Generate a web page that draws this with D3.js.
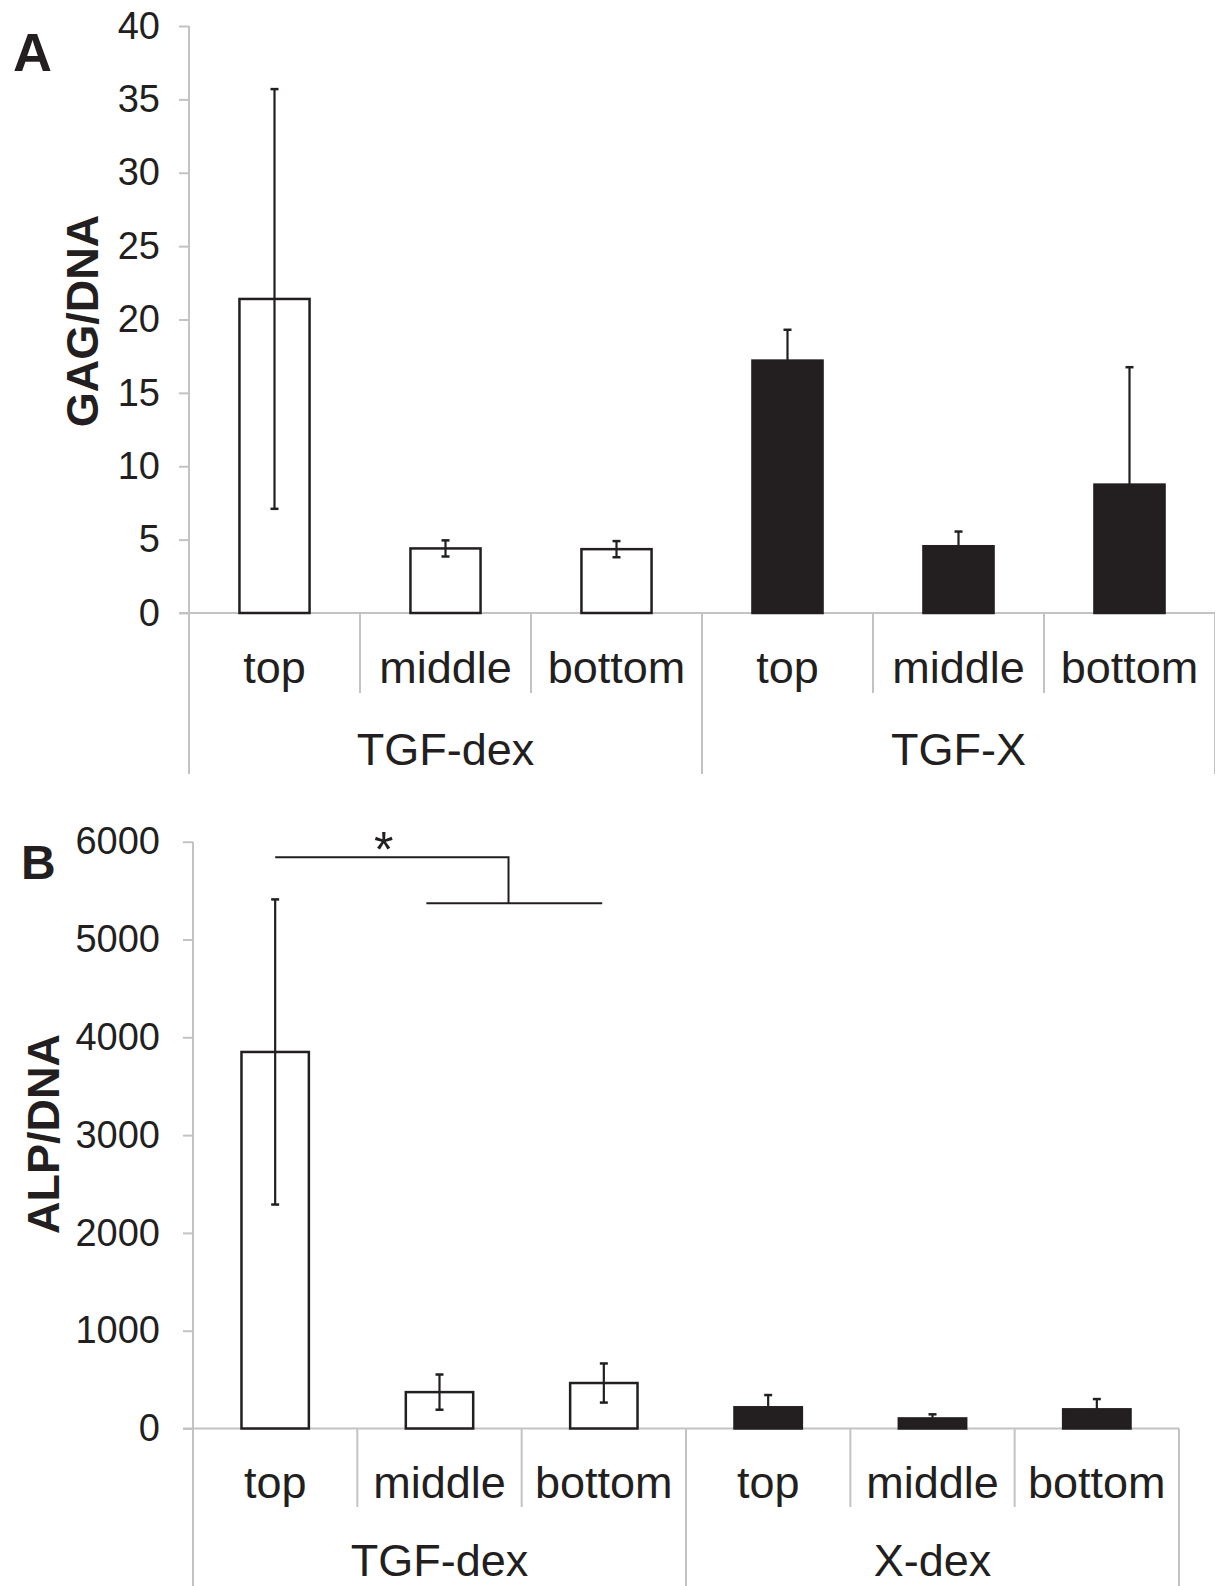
<!DOCTYPE html>
<html>
<head>
<meta charset="utf-8">
<script src="https://cdn.jsdelivr.net/npm/d3@7"></script>
<style>
  body { margin: 0; background: #fff; }
  svg { display: block; }
</style>
</head>
<body>
<div class="container"></div>
<script>
// categories
const positions = ['top', 'middle', 'bottom']
const groupsA = ['TGF-dex', 'TGF-X']
const groupsB = ['TGF-dex', 'X-dex']

// panel A: GAG/DNA
const gagMean = [21.4, 4.4, 4.35, 17.2, 4.55, 8.75]
const gagErr = [14.3, 0.55, 0.55, 2.1, 1.0, 8.0]
const gagTicks = [0, 5, 10, 15, 20, 25, 30, 35, 40]

// panel B: ALP/DNA
const alpMean = [3850, 372, 465, 217, 103, 196]
const alpErr = [1560, 180, 200, 125, 42, 105]
const alpTicks = [0, 1000, 2000, 3000, 4000, 5000, 6000]

// significance bracket in panel B (category index units / data units)
const sigHigh = [0.5, 1.92, 5840]
const sigLow = [1.42, 2.49, 5370]

const w = 1215
const h = 1586
const ink = '#231f20'
const grey = '#c3c3c3'
const font = "'Liberation Sans', Arial, Helvetica, sans-serif"

const svg = d3.select('.container')
  .append('svg')
  .attr('width', w)
  .attr('height', h)
  .attr('font-family', font)

function panel(o) {
  const n = o.means.length
  const x = d3.scaleBand()
    .domain(d3.range(n))
    .range([o.left, o.right])
    .paddingInner(0.59)
    .paddingOuter(0.295)
  const xi = d3.scaleLinear().domain([0, n]).range([o.left, o.right])
  const y = d3.scaleLinear()
    .domain([0, d3.max(o.ticks)])
    .range([o.zero, o.top])

  const g = svg.append('g')

  // y axis ticks + labels
  const ax = g.append('g')
    .attr('transform', `translate(${o.left},0)`)
    .call(d3.axisLeft(y)
      .tickValues(o.ticks)
      .tickFormat(d3.format('d'))
      .tickSize(10)
      .tickPadding(o.tickPad)
      .tickSizeOuter(0))
    .attr('font-family', font)
    .attr('font-size', o.tickFont)
  ax.select('.domain').remove()
  ax.selectAll('line').attr('stroke', grey).attr('stroke-width', 2)
  ax.selectAll('text').attr('fill', ink)

  // axis lines
  g.append('line')
    .attr('x1', o.left).attr('x2', o.left)
    .attr('y1', y(d3.max(o.ticks))).attr('y2', o.groupBottom)
    .attr('stroke', grey).attr('stroke-width', 2)
  g.append('line')
    .attr('x1', o.left - 10).attr('x2', o.right)
    .attr('y1', y(0)).attr('y2', y(0))
    .attr('stroke', grey).attr('stroke-width', 2)

  // category dividers
  g.selectAll('.div')
    .data(d3.range(1, n + 1))
    .enter()
    .append('line')
    .attr('x1', d => xi(d)).attr('x2', d => xi(d))
    .attr('y1', y(0))
    .attr('y2', d => d % 3 === 0 ? o.groupBottom : o.catBottom)
    .attr('stroke', grey).attr('stroke-width', 2)

  // bars
  g.selectAll('.bar')
    .data(o.means)
    .enter()
    .append('rect')
    .attr('x', (d, i) => x(i))
    .attr('width', x.bandwidth())
    .attr('y', d => y(d))
    .attr('height', d => y(0) - y(d))
    .attr('fill', (d, i) => i < 3 ? '#fff' : ink)
    .attr('stroke', ink)
    .attr('stroke-width', 2.5)

  // error bars
  const eb = g.selectAll('.err')
    .data(o.means)
    .enter()
    .append('g')
    .attr('transform', (d, i) => `translate(${x(i) + x.bandwidth() / 2},0)`)
  eb.append('line')
    .attr('y1', (d, i) => y(d + o.errs[i]))
    .attr('y2', (d, i) => y(Math.max(0, d - o.errs[i])))
    .attr('stroke', ink).attr('stroke-width', 2.2)
  eb.append('line')
    .attr('x1', -4).attr('x2', 4)
    .attr('y1', (d, i) => y(d + o.errs[i]))
    .attr('y2', (d, i) => y(d + o.errs[i]))
    .attr('stroke', ink).attr('stroke-width', 2.5)
  eb.append('line')
    .attr('x1', -4).attr('x2', 4)
    .attr('y1', (d, i) => y(Math.max(0, d - o.errs[i])))
    .attr('y2', (d, i) => y(Math.max(0, d - o.errs[i])))
    .attr('stroke', ink).attr('stroke-width', 2.5)

  // category labels
  g.selectAll('.cat')
    .data(o.means)
    .enter()
    .append('text')
    .text((d, i) => positions[i % 3])
    .attr('x', (d, i) => x(i) + x.bandwidth() / 2)
    .attr('y', o.catY)
    .attr('text-anchor', 'middle')
    .attr('font-size', 45)
    .attr('fill', ink)

  // group labels
  g.selectAll('.grp')
    .data(o.groups)
    .enter()
    .append('text')
    .text(d => d)
    .attr('x', (d, i) => xi(i * 3 + 1.5))
    .attr('y', o.groupY)
    .attr('text-anchor', 'middle')
    .attr('font-size', 45)
    .attr('fill', ink)

  // y title
  g.append('text')
    .text(o.title)
    .attr('transform', `translate(${o.titleX},${o.titleY}) rotate(-90)`)
    .attr('text-anchor', 'middle')
    .attr('dominant-baseline', 'central')
    .attr('font-size', 45)
    .attr('font-weight', 'bold')
    .attr('fill', ink)

  // panel letter
  g.append('text')
    .text(o.letter)
    .attr('x', o.letterX)
    .attr('y', o.letterY)
    .attr('font-size', o.letterFont)
    .attr('font-weight', 'bold')
    .attr('fill', ink)

  return { xi, y, g }
}

panel({
  means: gagMean, errs: gagErr, ticks: gagTicks, groups: groupsA,
  left: 189, right: 1215, zero: 613, top: 26,
  catBottom: 693, groupBottom: 774, catY: 683, groupY: 765,
  tickFont: 38, tickPad: 19, title: 'GAG/DNA', titleX: 82, titleY: 321,
  letter: 'A', letterX: 13, letterY: 71, letterFont: 54
})

const pB = panel({
  means: alpMean, errs: alpErr, ticks: alpTicks, groups: groupsB,
  left: 193, right: 1179, zero: 1428.5, top: 841.7,
  catBottom: 1507, groupBottom: 1586, catY: 1498, groupY: 1576,
  tickFont: 38, tickPad: 23, title: 'ALP/DNA', titleX: 43, titleY: 1134,
  letter: 'B', letterX: 21, letterY: 879, letterFont: 48
})

// significance bracket
const br = d3.path()
br.moveTo(pB.xi(sigHigh[0]), pB.y(sigHigh[2]))
br.lineTo(pB.xi(sigHigh[1]), pB.y(sigHigh[2]))
br.lineTo(pB.xi(sigHigh[1]), pB.y(sigLow[2]))
br.moveTo(pB.xi(sigLow[0]), pB.y(sigLow[2]))
br.lineTo(pB.xi(sigLow[1]), pB.y(sigLow[2]))
pB.g.append('path')
  .attr('d', br.toString())
  .attr('fill', 'none')
  .attr('stroke', ink)
  .attr('stroke-width', 2)
pB.g.append('text')
  .text('*')
  .attr('x', pB.xi(1.16))
  .attr('y', pB.y(sigHigh[2]) + 10)
  .attr('text-anchor', 'middle')
  .attr('font-size', 50)
  .attr('fill', ink)
</script>
</body>
</html>
